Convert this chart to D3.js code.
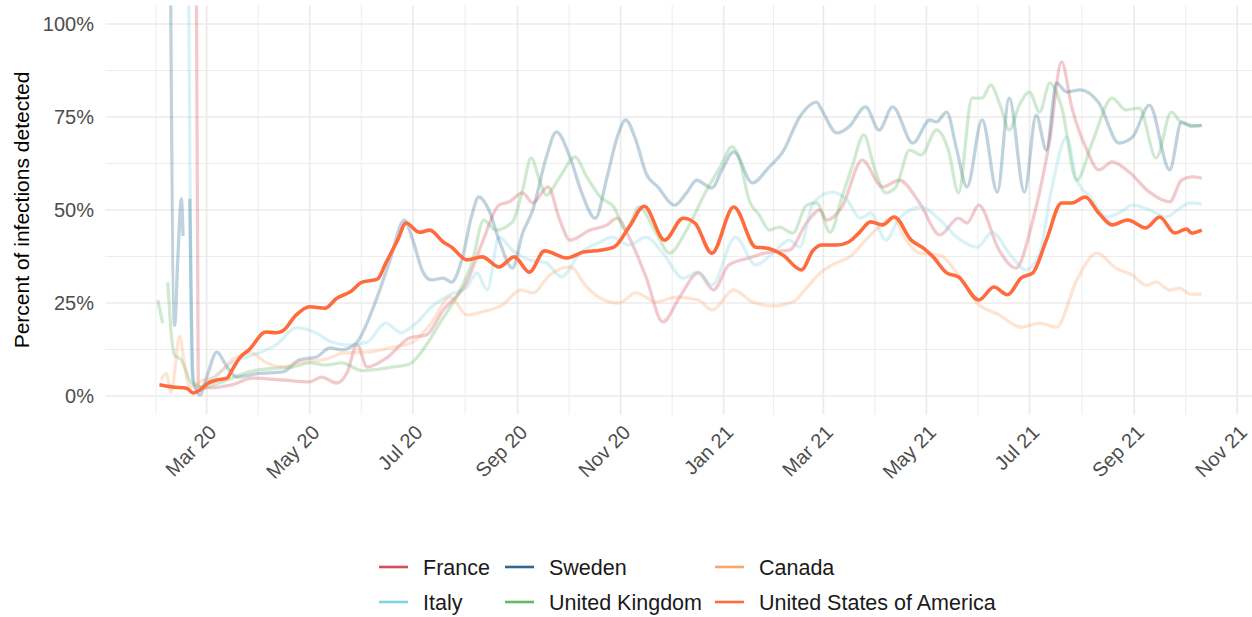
<!DOCTYPE html>
<html>
<head>
<meta charset="utf-8">
<title>Percent of infections detected</title>
<script src="https://d3js.org/d3.v7.min.js"></script>
<style>
  body { margin: 0; background: #fff; }
  svg { display: block; font-family: "Liberation Sans", Arial, sans-serif; }
</style>
</head>
<body>
<div id="container"></div>
<script>

// percent of infections detected, knots (null = gap)
const france = [["2020-02-23",200],["2020-02-25",2.5],["2020-02-28",2.1],["2020-03-16",3.0],["2020-03-28",4.8],["2020-04-15",4.3],["2020-05-01",3.8],["2020-05-08",5.1],["2020-05-17",3.5],["2020-05-23",6.2],["2020-05-29",13.7],["2020-06-04",7.8],["2020-06-16",10.4],["2020-06-29",15.6],["2020-07-09",16.4],["2020-07-19",23.1],["2020-08-02",30.6],["2020-08-11",41.1],["2020-08-21",51.3],["2020-08-27",52.2],["2020-09-04",54.6],["2020-09-10",51.9],["2020-09-19",56.2],["2020-09-26",47.3],["2020-10-02",41.9],["2020-10-14",44.6],["2020-10-24",46.0],["2020-10-30",47.8],["2020-11-06",42.7],["2020-11-16",32.0],["2020-11-26",19.9],["2020-12-06",26.6],["2020-12-17",33.1],["2020-12-26",28.5],["2021-01-04",35.2],["2021-01-16",37.1],["2021-01-28",38.7],["2021-02-09",39.2],["2021-02-19",46.5],["2021-02-27",50.0],["2021-03-03",47.3],["2021-03-12",50.8],["2021-03-24",63.4],["2021-04-05",56.2],["2021-04-15",58.0],["2021-04-27",51.9],["2021-05-09",43.3],["2021-05-20",47.8],["2021-05-25",46.5],["2021-06-01",51.3],["2021-06-13",39.2],["2021-06-23",34.4],["2021-07-03",47.3],["2021-07-13",68.8],["2021-07-20",89.8],["2021-07-26",77.7],["2021-08-04",66.1],["2021-08-11",60.8],["2021-08-19",62.9],["2021-08-29",60.2],["2021-09-10",54.8],["2021-09-22",52.2],["2021-09-29",58.0],["2021-10-05",58.9],["2021-10-11",58.6]];

const italy = [["2020-02-16",160],["2020-02-19",130],["2020-02-21",8],["2020-02-24",2],["2020-03-05",5.1],["2020-03-16",8.9],["2020-04-01",11.6],["2020-04-11",13.7],["2020-04-23",18.3],["2020-05-05",16.9],["2020-05-14",14.5],["2020-05-24",13.7],["2020-06-04",14.5],["2020-06-15",19.6],["2020-06-24",17.0],["2020-07-03",19.6],["2020-07-12",23.9],["2020-07-23",27.2],["2020-08-02",29.3],["2020-08-08",33.1],["2020-08-14",28.5],["2020-08-21",42.7],["2020-08-29",39.2],["2020-09-08",36.6],["2020-09-18",35.8],["2020-09-27",32.0],["2020-10-08",38.4],["2020-10-20",41.4],["2020-10-27",42.7],["2020-11-06",40.6],["2020-11-16",42.7],["2020-11-26",38.4],["2020-12-08",31.7],["2020-12-17",33.3],["2020-12-25",29.8],["2021-01-08",42.7],["2021-01-20",35.2],["2021-01-30",38.4],["2021-02-09",41.9],["2021-02-15",40.0],["2021-02-23",51.9],["2021-03-06",54.8],["2021-03-15",52.7],["2021-03-23",47.8],["2021-03-29",49.2],["2021-04-07",41.9],["2021-04-15",47.8],["2021-04-28",50.8],["2021-05-09",47.3],["2021-05-19",42.7],["2021-05-31",40.0],["2021-06-09",44.0],["2021-06-19",38.4],["2021-06-29",33.9],["2021-07-07",38.4],["2021-07-14",55.4],["2021-07-23",69.6],["2021-07-29",58.0],["2021-08-06",53.5],["2021-08-16",48.1],["2021-08-24",49.5],["2021-08-31",51.3],["2021-09-10",50.0],["2021-09-20",48.1],["2021-09-28",50.5],["2021-10-04",51.9],["2021-10-11",51.6]];

const sweden = [["2020-02-08",150],["2020-02-11",19],["2020-02-13",38],["2020-02-15",53],["2020-02-16",43],["2020-02-18",null],["2020-02-20",53],["2020-02-22",4],["2020-02-26",0.3],["2020-03-01",5.1],["2020-03-07",11.8],["2020-03-13",7.8],["2020-03-19",5.1],["2020-03-31",6.0],["2020-04-15",6.5],["2020-04-25",9.7],["2020-05-05",10.5],["2020-05-13",12.9],["2020-05-20",12.4],["2020-05-29",14.5],["2020-06-07",23.1],["2020-06-17",35.8],["2020-06-26",47.3],["2020-07-01",41.9],["2020-07-07",33.3],["2020-07-12",31.2],["2020-07-19",31.7],["2020-07-24",30.6],["2020-07-30",36.6],["2020-08-05",48.7],["2020-08-09",53.5],["2020-08-15",50.0],["2020-08-21",41.9],["2020-08-29",34.4],["2020-09-04",43.8],["2020-09-10",50.0],["2020-09-18",64.2],["2020-09-24",71.0],["2020-10-02",64.2],["2020-10-09",54.6],["2020-10-17",47.8],["2020-10-24",58.9],["2020-10-30",69.6],["2020-11-04",74.2],["2020-11-10",68.8],["2020-11-16",59.9],["2020-11-23",56.2],["2020-12-03",51.3],["2020-12-10",54.6],["2020-12-16",58.0],["2020-12-25",55.9],["2020-12-31",60.8],["2021-01-07",65.6],["2021-01-18",57.3],["2021-01-28",61.6],["2021-02-05",65.6],["2021-02-15",75.0],["2021-02-25",79.0],["2021-02-28",76.9],["2021-03-09",70.7],["2021-03-16",72.3],["2021-03-26",77.7],["2021-04-03",71.5],["2021-04-11",77.7],["2021-04-23",68.0],["2021-05-03",74.2],["2021-05-07",73.7],["2021-05-13",76.3],["2021-05-19",66.1],["2021-05-25",56.2],["2021-06-03",74.2],["2021-06-12",54.8],["2021-06-19",80.1],["2021-06-28",54.8],["2021-07-05",75.5],["2021-07-11",66.1],["2021-07-17",84.1],["2021-07-23",81.7],["2021-07-31",82.3],["2021-08-11",78.8],["2021-08-23",68.0],["2021-08-31",69.6],["2021-09-10",78.2],["2021-09-22",60.8],["2021-09-29",73.7],["2021-10-05",72.5],["2021-10-11",72.8]];

const uk = [["2020-02-01",25.8],["2020-02-04",19.6],["2020-02-05",null],["2020-02-07",30.6],["2020-02-09",16.9],["2020-02-11",11.0],["2020-02-15",9.7],["2020-02-21",3.5],["2020-02-28",2.4],["2020-03-13",4.3],["2020-03-26",6.5],["2020-04-11",7.5],["2020-04-21",7.8],["2020-05-01",8.9],["2020-05-11",8.3],["2020-05-20",8.9],["2020-06-01",6.8],["2020-06-07",7.0],["2020-06-19",7.8],["2020-06-29",8.6],["2020-07-07",12.4],["2020-07-17",19.6],["2020-07-29",28.5],["2020-08-05",35.8],["2020-08-12",47.3],["2020-08-19",44.6],["2020-08-29",46.8],["2020-09-04",55.4],["2020-09-09",64.0],["2020-09-14",58.0],["2020-09-18",54.0],["2020-09-26",58.9],["2020-10-05",64.2],["2020-10-12",58.9],["2020-10-20",53.5],["2020-10-28",50.8],["2020-11-04",44.6],["2020-11-12",50.8],["2020-11-22",43.8],["2020-11-30",38.4],["2020-12-10",44.6],["2020-12-22",55.4],["2020-12-30",61.6],["2021-01-06",67.0],["2021-01-10",64.2],["2021-01-16",52.7],["2021-01-22",48.7],["2021-01-28",44.6],["2021-02-03",45.4],["2021-02-11",43.8],["2021-02-19",51.3],["2021-02-25",51.9],["2021-03-05",44.0],["2021-03-12",53.5],["2021-03-18",61.6],["2021-03-25",70.2],["2021-03-31",61.6],["2021-04-07",54.6],["2021-04-13",56.2],["2021-04-21",66.1],["2021-04-28",64.8],["2021-05-07",71.5],["2021-05-14",66.1],["2021-05-20",54.6],["2021-05-28",80.1],["2021-06-03",80.1],["2021-06-08",83.6],["2021-06-14",77.7],["2021-06-19",71.5],["2021-06-25",78.2],["2021-07-01",81.7],["2021-07-07",76.3],["2021-07-13",84.1],["2021-07-20",77.7],["2021-07-29",58.0],["2021-08-07",68.0],["2021-08-19",80.1],["2021-08-27",76.9],["2021-09-04",77.4],["2021-09-14",64.0],["2021-09-23",76.3],["2021-09-29",73.4],["2021-10-05",72.8],["2021-10-11",72.6]];

const canada = [["2020-02-03",4.3],["2020-02-06",6.0],["2020-02-09",1.0],["2020-02-14",16.0],["2020-02-17",8.0],["2020-02-20",2.4],["2020-02-28",4.3],["2020-03-05",4.8],["2020-03-16",9.7],["2020-03-27",11.7],["2020-04-05",9.0],["2020-04-15",7.8],["2020-04-25",9.1],["2020-05-09",9.7],["2020-05-22",11.6],["2020-06-04",11.8],["2020-06-17",12.9],["2020-07-01",14.5],["2020-07-12",19.6],["2020-07-23",26.6],["2020-08-02",21.8],["2020-08-11",22.6],["2020-08-23",24.5],["2020-09-03",28.5],["2020-09-10",27.7],["2020-09-20",32.5],["2020-10-02",34.7],["2020-10-12",29.3],["2020-10-20",26.3],["2020-10-31",25.0],["2020-11-10",27.7],["2020-11-22",25.3],["2020-12-04",26.6],["2020-12-17",25.8],["2020-12-25",23.1],["2021-01-07",28.5],["2021-01-18",25.3],["2021-01-30",24.2],["2021-02-11",25.3],["2021-02-19",29.0],["2021-02-27",33.0],["2021-03-06",35.2],["2021-03-18",37.9],["2021-03-26",41.9],["2021-04-03",45.4],["2021-04-11",48.1],["2021-04-19",41.9],["2021-04-27",38.4],["2021-05-09",37.9],["2021-05-19",33.1],["2021-05-31",25.0],["2021-06-13",21.8],["2021-06-26",18.5],["2021-07-07",19.6],["2021-07-17",18.5],["2021-07-29",31.2],["2021-08-10",38.4],["2021-08-21",34.4],["2021-08-31",32.5],["2021-09-08",29.8],["2021-09-14",30.6],["2021-09-22",28.5],["2021-09-28",29.0],["2021-10-04",27.4],["2021-10-11",27.4]];

const usa = [["2020-02-02",3.0],["2020-02-10",2.4],["2020-02-18",2.1],["2020-02-22",0.8],["2020-02-26",1.6],["2020-03-02",3.5],["2020-03-07",4.3],["2020-03-13",4.8],["2020-03-16",7.0],["2020-03-21",10.5],["2020-03-26",12.4],["2020-04-05",17.2],["2020-04-11",17.0],["2020-04-15",17.5],["2020-04-23",21.8],["2020-05-01",24.0],["2020-05-10",23.6],["2020-05-17",26.3],["2020-05-25",28.0],["2020-06-01",30.6],["2020-06-10",31.4],["2020-06-15",35.7],["2020-06-22",41.9],["2020-06-27",46.5],["2020-07-05",44.0],["2020-07-11",44.6],["2020-07-19",41.4],["2020-07-24",40.0],["2020-08-02",36.6],["2020-08-11",37.4],["2020-08-21",34.7],["2020-08-30",37.4],["2020-09-08",33.3],["2020-09-17",39.0],["2020-09-30",37.1],["2020-10-10",38.7],["2020-10-20",39.2],["2020-10-28",40.0],["2020-11-06",45.4],["2020-11-15",51.0],["2020-11-27",41.9],["2020-12-08",47.8],["2020-12-15",46.5],["2020-12-25",38.4],["2021-01-07",50.8],["2021-01-20",40.0],["2021-01-26",39.8],["2021-02-05",37.9],["2021-02-16",33.9],["2021-02-23",39.2],["2021-02-28",40.6],["2021-03-09",40.6],["2021-03-16",41.4],["2021-03-22",43.8],["2021-03-29",46.8],["2021-04-05",46.0],["2021-04-12",48.1],["2021-04-22",41.9],["2021-04-29",39.8],["2021-05-05",37.4],["2021-05-13",33.1],["2021-05-20",32.0],["2021-06-01",25.8],["2021-06-10",29.3],["2021-06-18",27.2],["2021-06-26",31.7],["2021-07-03",33.1],["2021-07-11",41.9],["2021-07-20",51.9],["2021-07-26",51.9],["2021-08-03",53.5],["2021-08-11",49.2],["2021-08-19",46.0],["2021-08-28",47.3],["2021-09-08",45.2],["2021-09-16",48.1],["2021-09-25",43.8],["2021-10-02",44.9],["2021-10-05",43.8],["2021-10-11",44.6]];

const countries = ["France", "Italy", "Sweden", "United Kingdom", "Canada", "United States of America"];
const colours = ["#d3505b", "#82d3e2", "#2c6b90", "#63b966", "#fca46c", "#ff6b3d"];
const yTicks = [0, 25, 50, 75, 100];
const xTicks = ["2020-03-01","2020-05-01","2020-07-01","2020-09-01","2020-11-01","2021-01-01",
                "2021-03-01","2021-05-01","2021-07-01","2021-09-01","2021-11-01"];

const width = 1252, height = 617;
const panel = {left: 105.5, right: 1254, top: 5.4, bottom: 414.6};
const parse = d3.timeParse("%Y-%m-%d");

const series = countries.map((name, i) => ({
  name: name,
  colour: colours[i],
  values: [france, italy, sweden, uk, canada, usa][i].map(d => ({date: parse(d[0]), v: d[1]}))
}));

// ggplot-style 5% expansion of the data range
const ext = d3.extent(series.flatMap(s => s.values.map(d => d.date)));
const pad = (ext[1] - ext[0]) * 0.05;
const x = d3.scaleTime()
  .domain([new Date(+ext[0] - pad), new Date(+ext[1] + pad)])
  .range([panel.left, panel.right]);
const y = d3.scaleLinear().domain([-5, 105]).range([panel.bottom, panel.top]);

const svg = d3.select("#container").append("svg")
  .attr("width", width).attr("height", height)
  .attr("viewBox", [0, 0, width, height]);

svg.append("rect").attr("width", width).attr("height", height).attr("fill", "#fff");

// gridlines
const majors = xTicks.map(parse);
const ext2 = [d3.timeMonth.offset(majors[0], -2), ...majors, d3.timeMonth.offset(majors[majors.length - 1], 2)];
const xMinor = d3.pairs(ext2).map(([a, b]) => new Date((+a + +b) / 2))
  .filter(d => x(d) >= panel.left && x(d) <= panel.right);
const yMinor = d3.pairs(yTicks).map(([a, b]) => (a + b) / 2);

const grid = svg.append("g").attr("stroke", "#ebebeb").attr("fill", "none");
grid.selectAll(".ymin").data(yMinor).join("line")
  .attr("x1", panel.left).attr("x2", panel.right)
  .attr("y1", d => y(d)).attr("y2", d => y(d)).attr("stroke-width", 0.9);
grid.selectAll(".xmin").data(xMinor).join("line")
  .attr("y1", panel.top).attr("y2", panel.bottom)
  .attr("x1", d => x(d)).attr("x2", d => x(d)).attr("stroke-width", 0.9);
grid.selectAll(".ymaj").data(yTicks).join("line")
  .attr("x1", panel.left).attr("x2", panel.right)
  .attr("y1", d => y(d)).attr("y2", d => y(d)).attr("stroke-width", 1.7);
grid.selectAll(".xmaj").data(majors).join("line")
  .attr("y1", panel.top).attr("y2", panel.bottom)
  .attr("x1", d => x(d)).attr("x2", d => x(d)).attr("stroke-width", 1.7);

// lines
svg.append("clipPath").attr("id", "clip").append("rect")
  .attr("x", panel.left).attr("y", panel.top)
  .attr("width", panel.right - panel.left).attr("height", panel.bottom - panel.top);

const line = d3.line()
  .defined(d => d.v != null)
  .x(d => x(d.date)).y(d => y(d.v))
  .curve(d3.curveMonotoneX);

const highlight = "United States of America";
svg.append("g").attr("clip-path", "url(#clip)")
  .attr("fill", "none").attr("stroke-linejoin", "round").attr("stroke-linecap", "butt")
  .selectAll("path")
  .data(series.filter(s => s.name !== highlight).concat(series.filter(s => s.name === highlight)))
  .join("path")
  .attr("d", d => line(d.values))
  .attr("stroke", d => d.colour)
  .attr("stroke-opacity", d => d.name === highlight ? 1 : 0.3)
  .attr("stroke-width", d => d.name === highlight ? 3.6 : 3.3);

// y axis
svg.append("g").selectAll("text").data(yTicks).join("text")
  .attr("x", 94).attr("y", d => y(d)).attr("dy", "0.35em")
  .attr("text-anchor", "end").attr("font-size", 20).attr("fill", "#4d4d4d")
  .text(d => d + "%");

svg.append("text")
  .attr("transform", `translate(29,${(panel.top + panel.bottom) / 2}) rotate(-90)`)
  .attr("text-anchor", "middle").attr("font-size", 21).attr("fill", "#000")
  .text("Percent of infections detected");

// x axis
const fmt = d3.timeFormat("%b %y");
svg.append("g").selectAll("text").data(majors).join("text")
  .attr("transform", d => `translate(${x(d) + 1},${panel.bottom + 9}) rotate(-45)`)
  .attr("text-anchor", "end").attr("dy", "0.71em")
  .attr("font-size", 20).attr("fill", "#4d4d4d")
  .text(d => fmt(d));

// legend, two rows filled by column
const legCols = [379, 505, 715], legRows = [567, 602];
const leg = svg.append("g").selectAll("g").data(series).join("g")
  .attr("transform", (d, i) => `translate(${legCols[Math.floor(i / 2)]},${legRows[i % 2]})`);
leg.append("line").attr("x1", 0).attr("x2", 29)
  .attr("stroke", d => d.colour).attr("stroke-width", 2.6);
leg.append("text").attr("x", 44).attr("dy", "0.35em")
  .attr("font-size", 21.5).attr("fill", "#1a1a1a")
  .text(d => d.name);

</script>
</body>
</html>
